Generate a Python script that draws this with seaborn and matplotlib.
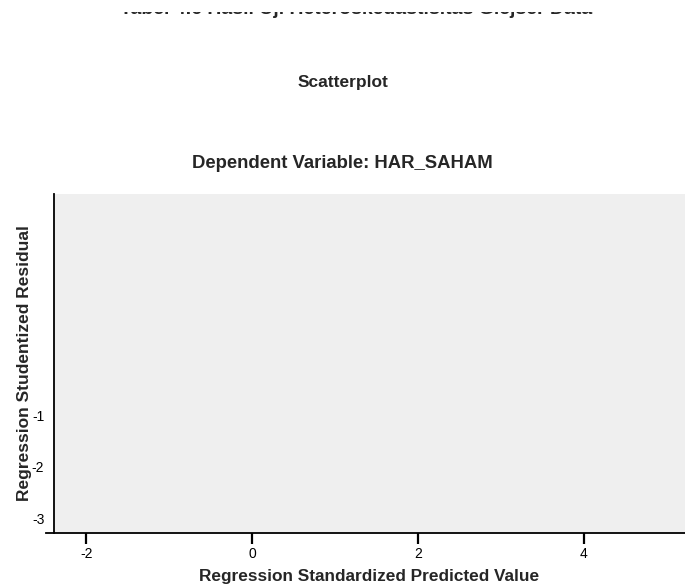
import matplotlib
matplotlib.use("Agg")
import matplotlib.pyplot as plt
import seaborn as sns
from matplotlib.patches import Rectangle

# the residual plot shows no points, only the frame
predicted = []
residuals = []

x_ticks = [-2, 0, 2, 4]
y_ticks = [-3, -2, -1]
x_limits = [-2.39, 5.22]
y_limits = [-3.29, 3.29]

caption = "Tabel 4.6 Hasil Uji Heteroskedastisitas Glejser Data"
title = "Scatterplot"
subtitle = "Dependent Variable: HAR_SAHAM"
x_label = "Regression Standardized Predicted Value"
y_label = "Regression Studentized Residual"

sns.set_theme(style="white")
plt.rcParams["font.family"] = ["Liberation Sans", "DejaVu Sans"]

fig = plt.figure(figsize=(6.85, 5.85), dpi=100)
ax = fig.add_axes([54 / 685, 52 / 585, 631 / 685, 339 / 585])
ax.set_facecolor("#efefef")

sns.scatterplot(x=predicted, y=residuals, ax=ax)

ax.set_xlim(*x_limits)
ax.set_ylim(*y_limits)
ax.set_xticks(x_ticks)
ax.set_xticklabels([str(t) for t in x_ticks])
ax.set_yticks(y_ticks)
ax.set_yticklabels([str(t) for t in y_ticks])
ax.tick_params(axis="x", bottom=True, direction="out", length=8, width=1.6,
               color="black", labelsize=10, pad=2, labelcolor="black")
ax.tick_params(axis="y", left=False, length=0, labelsize=10, pad=7,
               labelcolor="black")

for side in ["top", "right"]:
    ax.spines[side].set_visible(False)
for side in ["left", "bottom"]:
    ax.spines[side].set_color("black")
    ax.spines[side].set_linewidth(1.3)
# the x axis line runs a little past the y axis, as in the source
ax.spines["bottom"].set_bounds(x_limits[0] - 0.1, x_limits[1])

ax.set_xlabel(x_label, fontsize=12.4, fontweight="bold", labelpad=6)
ax.set_ylabel(y_label, fontsize=12.5, fontweight="bold", labelpad=0)

fig.text(0.5, 1 - 83 / 585, title, ha="center", va="center",
         fontsize=12.5, fontweight="bold")
fig.text(0.5, 1 - 164 / 585, subtitle, ha="center", va="center",
         fontsize=13.3, fontweight="bold")

# the caption above is cut off by the page edge, only its foot shows
cap = fig.text(356 / 685, 1 - 14.5 / 585, caption, ha="center", va="baseline",
               fontsize=14, fontweight="bold")
keep = Rectangle((0, 0), 1, 1 - 12 / 585, transform=fig.transFigure)
cap.set_clip_path(keep)

fig.savefig("out.png", dpi=100)
